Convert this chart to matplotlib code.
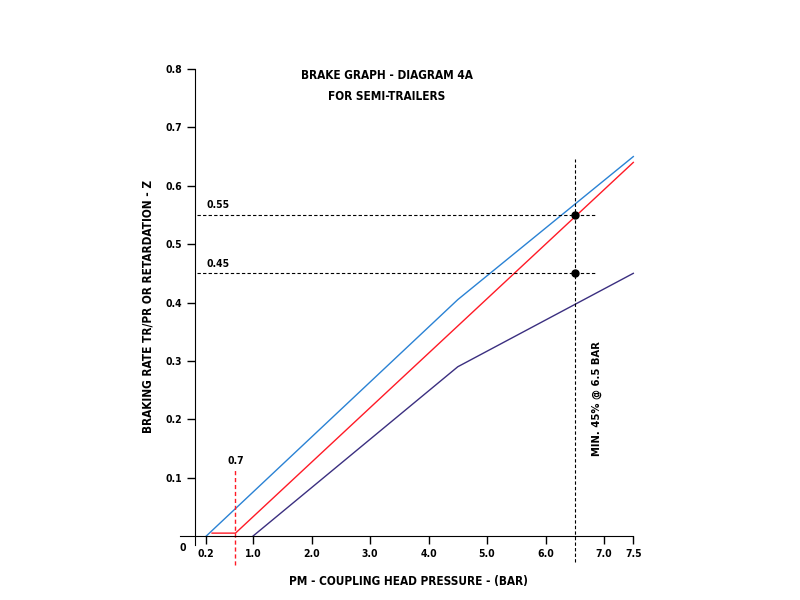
import matplotlib
matplotlib.use('Agg')
import matplotlib.pyplot as plt

plt.rcParams['font.family'] = ['DejaVu Sans']
plt.rcParams['font.stretch'] = 'condensed'
plt.rcParams['font.weight'] = 'bold'
plt.rcParams['axes.labelweight'] = 'bold'

# brake curves (pressure in bar, braking rate z)
upper_x = [0.2, 4.5, 7.5]
upper_y = [0.0, 0.405, 0.65]
mid_x = [0.3, 0.7, 7.5]
mid_y = [0.005, 0.005, 0.64]
lower_x = [1.0, 4.5, 7.5]
lower_y = [0.0, 0.29, 0.45]

ref_levels = [0.55, 0.45]
ref_labels = ['0.55', '0.45']
ref_pressure = 6.5
start_pressure = 0.7

xticks = [0.2, 1.0, 2.0, 3.0, 4.0, 5.0, 6.0, 7.0, 7.5]
xtick_labels = ['0.2', '1.0', '2.0', '3.0', '4.0', '5.0', '6.0', '7.0', '7.5']
yticks = [0.1, 0.2, 0.3, 0.4, 0.5, 0.6, 0.7, 0.8]
ytick_labels = ['0.1', '0.2', '0.3', '0.4', '0.5', '0.6', '0.7', '0.8']

fig = plt.figure(figsize=(8, 6), dpi=100)
ax = fig.add_axes([0.2249, 0.092, 0.5704, 0.793])
ax.set_xlim(-0.25, 7.55)
ax.set_ylim(-0.015, 0.8)

ax.plot(upper_x, upper_y, color='#2a82d4', lw=1.0)
ax.plot(mid_x, mid_y, color='#ff1a26', lw=1.0)
ax.plot(lower_x, lower_y, color='#3b2f80', lw=1.0)

for lev, lab in zip(ref_levels, ref_labels):
    ax.plot([0.05, 6.85], [lev, lev], color='black', lw=0.8, ls=(0, (3, 2)))
    ax.text(0.21, lev + 0.008, lab, fontsize=7.5, ha='left', va='bottom')
ax.plot([ref_pressure, ref_pressure], [-0.045, 0.645], color='black', lw=0.8,
        ls=(0, (3, 2)), clip_on=False)
ax.plot([ref_pressure] * 2, ref_levels, 'o', color='black', ms=5)

ax.plot([start_pressure, start_pressure], [-0.05, 0.113], color='#ff1a26', lw=1.0,
        ls=(0, (3, 2)), clip_on=False)
ax.text(start_pressure, 0.12, '0.7', fontsize=7.5, ha='center', va='bottom')

ax.text(6.88, 0.236, 'MIN. 45% @ 6.5 BAR', fontsize=8, rotation=90,
        ha='center', va='center')

ax.text(3.29, 0.80, 'BRAKE GRAPH - DIAGRAM 4A\nFOR SEMI-TRAILERS', fontsize=8.5,
        ha='center', va='top', linespacing=1.8)

for s in ['top', 'right']:
    ax.spines[s].set_visible(False)
ax.spines['left'].set_position(('data', 0))
ax.spines['bottom'].set_position(('data', 0))
ax.spines['left'].set_bounds(-0.015, 0.8)
ax.spines['bottom'].set_bounds(-0.25, 7.5)

ax.set_xticks(xticks)
ax.set_xticklabels(xtick_labels)
ax.set_yticks(yticks)
ax.set_yticklabels(ytick_labels)
ax.tick_params(axis='both', direction='out', length=6, width=1, labelsize=7.5, pad=3)
ax.text(-0.2, -0.02, '0', fontsize=7.5, ha='center', va='center')

ax.set_xlabel('PM - COUPLING HEAD PRESSURE - (BAR)', fontsize=8.5, labelpad=12)
ax.set_ylabel('BRAKING RATE TR/PR OR RETARDATION - Z', fontsize=8.5, labelpad=8)

fig.savefig('out.png', dpi=100)
